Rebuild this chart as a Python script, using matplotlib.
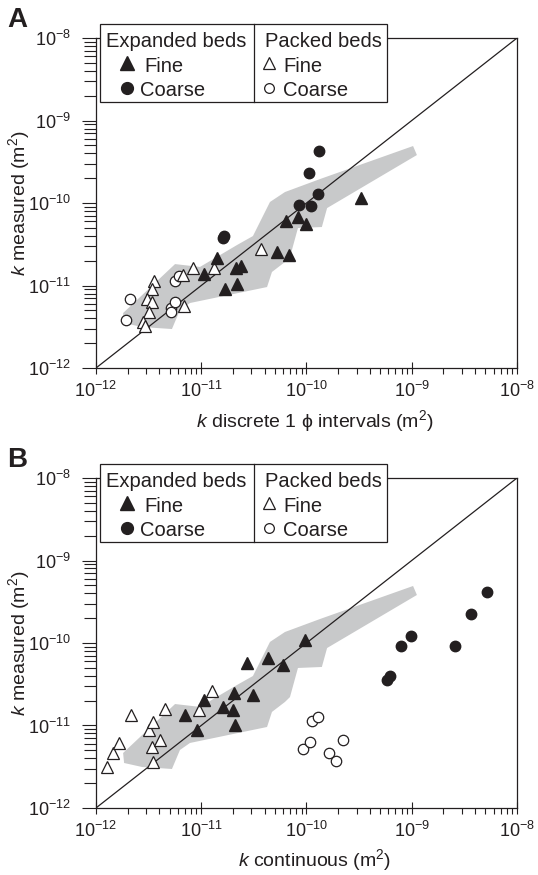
import matplotlib
matplotlib.use("Agg")
import matplotlib.pyplot as plt
from matplotlib.patches import Rectangle
from matplotlib.ticker import FixedLocator, NullFormatter

plt.rcParams["font.family"] = ["Liberation Sans", "DejaVu Sans"]
plt.rcParams["mathtext.fontset"] = "custom"
plt.rcParams["mathtext.rm"] = "Liberation Sans"
plt.rcParams["mathtext.it"] = "Liberation Sans:italic"
plt.rcParams["mathtext.bf"] = "Liberation Sans:bold"
plt.rcParams["axes.unicode_minus"] = False

INK = "#231f20"
GREY = "#c8c9ca"

# ---- measured k (m^2) vs predicted k, panel A: discrete 1-phi intervals ----
a_exp_fine_x = [1.40e-11, 1.07e-11, 2.12e-11, 2.39e-11, 1.67e-11, 2.17e-11,
                5.28e-11, 6.82e-11, 6.34e-11, 8.35e-11, 9.95e-11, 3.30e-10]
a_exp_fine_y = [2.14e-11, 1.38e-11, 1.61e-11, 1.74e-11, 9.0e-12, 1.04e-11,
                2.52e-11, 2.36e-11, 6.05e-11, 6.76e-11, 5.52e-11, 1.14e-10]
a_exp_coarse_x = [1.61e-11, 1.63e-11, 8.49e-11, 1.11e-10, 1.29e-10, 1.06e-10, 1.32e-10]
a_exp_coarse_y = [3.72e-11, 3.98e-11, 9.46e-11, 9.27e-11, 1.27e-10, 2.33e-10, 4.30e-10]
a_pack_fine_x = [3.58e-12, 3.38e-12, 3.03e-12, 3.38e-12, 3.19e-12, 2.78e-12,
                 2.92e-12, 6.90e-12, 8.30e-12, 1.32e-11, 3.67e-11, 6.75e-12]
a_pack_fine_y = [1.14e-11, 9.0e-12, 6.8e-12, 6.31e-12, 4.78e-12, 3.64e-12,
                 3.23e-12, 5.65e-12, 1.64e-11, 1.61e-11, 2.75e-11, 1.34e-11]
a_pack_coarse_x = [2.10e-12, 1.91e-12, 5.64e-12, 6.18e-12, 5.13e-12, 5.16e-12, 5.64e-12]
a_pack_coarse_y = [6.81e-12, 3.82e-12, 1.14e-11, 1.30e-11, 5.38e-12, 4.78e-12, 6.37e-12]

# ---- panel B: continuous ----
b_exp_fine_x = [6.97e-12, 9.12e-12, 1.07e-11, 1.60e-11, 2.03e-11, 1.99e-11,
                2.09e-11, 3.13e-11, 2.72e-11, 4.34e-11, 6.02e-11, 9.69e-11]
b_exp_fine_y = [1.33e-11, 8.87e-12, 2.06e-11, 1.69e-11, 2.48e-11, 1.52e-11,
                1.02e-11, 2.32e-11, 5.74e-11, 6.58e-11, 5.43e-11, 1.10e-10]
b_exp_coarse_x = [5.86e-10, 6.21e-10, 7.85e-10, 9.90e-10, 2.58e-9, 3.68e-9, 5.22e-9]
b_exp_coarse_y = [3.60e-11, 3.94e-11, 9.14e-11, 1.21e-10, 9.14e-11, 2.27e-10, 4.19e-10]
b_pack_fine_x = [1.28e-12, 1.46e-12, 1.66e-12, 2.16e-12, 3.21e-12, 3.50e-12,
                 3.38e-12, 3.46e-12, 4.08e-12, 4.57e-12, 9.57e-12, 1.26e-11]
b_pack_fine_y = [3.18e-12, 4.63e-12, 6.12e-12, 1.34e-11, 8.71e-12, 1.10e-11,
                 5.47e-12, 3.56e-12, 6.62e-12, 1.57e-11, 1.55e-11, 2.64e-11]
b_pack_coarse_x = [1.12e-10, 1.28e-10, 9.33e-11, 1.08e-10, 1.65e-10, 1.91e-10, 2.24e-10]
b_pack_coarse_y = [1.12e-11, 1.27e-11, 5.21e-12, 6.30e-12, 4.70e-12, 3.70e-12, 6.58e-12]

# grey envelope (same in both panels)
env_x = [1.81e-12, 5.64e-12, 9.73e-12, 2.19e-11, 3.10e-11, 4.50e-11, 6.25e-11,
         1.34e-10, 1.03e-9, 1.12e-9, 1.57e-10, 1.40e-10, 8.30e-11, 6.97e-11,
         6.25e-11, 4.70e-11, 4.22e-11, 7.82e-12, 6.28e-12, 5.27e-12, 2.74e-12, 1.85e-12]
env_y = [4.64e-12, 1.82e-11, 1.68e-11, 3.10e-11, 3.98e-11, 1.03e-10, 1.36e-10,
         1.95e-10, 4.91e-10, 3.82e-10, 8.69e-11, 5.12e-11, 4.98e-11, 2.21e-11,
         1.93e-11, 1.46e-11, 9.59e-12, 6.14e-12, 5.05e-12, 2.97e-12, 3.14e-12, 3.51e-12]

k_lim = [1e-12, 1e-8]
decade_exps = [-12, -11, -10, -9, -8]


def draw_key(ax):
    """Two-column key box sitting over the top-left of the axes."""
    tr = ax.transAxes
    ax.add_patch(Rectangle((0.0095, 0.806), 0.6817, 0.2364, transform=tr,
                           fc="white", ec=INK, lw=0.9, clip_on=False, zorder=6))
    ax.plot([0.3753, 0.3753], [0.806, 1.0424], color=INK, lw=0.9,
            transform=tr, clip_on=False, zorder=7)
    fs = 14.5
    kw = dict(transform=tr, fontsize=fs, color=INK, va="center_baseline", zorder=8)
    ax.text(0.0238, 0.997, "Expanded beds", **kw)
    ax.text(0.4014, 0.997, "Packed beds", **kw)
    ax.text(0.114, 0.921, "Fine", **kw)
    ax.text(0.1045, 0.8476, "Coarse", **kw)
    ax.text(0.4442, 0.921, "Fine", **kw)
    ax.text(0.4442, 0.8476, "Coarse", **kw)
    mk = dict(transform=tr, clip_on=False, zorder=8, linestyle="none")
    ax.plot([0.0729], [0.925], marker="^", ms=10.5, mfc=INK, mec=INK, **mk)
    ax.plot([0.0729], [0.8476], marker="o", ms=8.5, mfc=INK, mec=INK, **mk)
    ax.plot([0.4116], [0.925], marker="^", ms=9, mfc="white", mec=INK, mew=0.9, **mk)
    ax.plot([0.4109], [0.8476], marker="o", ms=7, mfc="white", mec=INK, mew=0.9, **mk)


def draw_panel(ax, exp_fine, exp_coarse, pack_fine, pack_coarse, xlabel):
    ax.set_xscale("log")
    ax.set_yscale("log")
    ax.set_xlim(k_lim)
    ax.set_ylim(k_lim)

    ax.fill(env_x, env_y, color=GREY, lw=0, zorder=1)
    ax.plot(k_lim, k_lim, color=INK, lw=0.9, zorder=2)

    ax.plot(*pack_coarse, "o", ms=7.5, mfc="white", mec=INK, mew=0.9, zorder=3)
    ax.plot(*pack_fine, "^", ms=8.5, mfc="white", mec=INK, mew=0.9, zorder=3)
    ax.plot(*exp_fine, "^", ms=8.5, mfc=INK, mec=INK, zorder=4)
    ax.plot(*exp_coarse, "o", ms=7.5, mfc=INK, mec=INK, zorder=4)

    for s in ax.spines.values():
        s.set_linewidth(0.9)
        s.set_color(INK)

    majors = [10.0 ** e for e in decade_exps]
    minors = [m * 10.0 ** e for e in decade_exps[:-1] for m in range(2, 10)]
    labels = ["$10^{%d}$" % e for e in decade_exps]
    for axis in (ax.xaxis, ax.yaxis):
        axis.set_major_locator(FixedLocator(majors))
        axis.set_minor_locator(FixedLocator(minors))
        axis.set_minor_formatter(NullFormatter())
    ax.set_xticklabels(labels)
    ax.set_yticklabels(labels)

    ax.tick_params(axis="x", which="major", direction="inout", length=9,
                   width=0.8, pad=5, labelsize=13, colors=INK)
    ax.tick_params(axis="x", which="minor", direction="out", length=4,
                   width=0.8, colors=INK)
    ax.tick_params(axis="y", which="major", direction="out", length=10,
                   width=0.8, pad=8, labelsize=13, colors=INK)
    ax.tick_params(axis="y", which="minor", direction="out", length=8.5,
                   width=0.8, colors=INK)

    ax.set_xlabel(xlabel, fontsize=14, color=INK)
    ax.set_ylabel(r"$k$ measured (m$^2$)", fontsize=14, color=INK)
    ax.yaxis.set_label_coords(-0.152, 0.5)
    ax.xaxis.set_label_coords(0.52, -0.12)
    draw_key(ax)


def main():
    fig = plt.figure(figsize=(5.38, 8.75), dpi=100)
    ax_a = fig.add_axes([0.1784, 0.5794, 0.7825, 0.3771])
    ax_b = fig.add_axes([0.1784, 0.0766, 0.7825, 0.3771])

    draw_panel(ax_a,
               (a_exp_fine_x, a_exp_fine_y), (a_exp_coarse_x, a_exp_coarse_y),
               (a_pack_fine_x, a_pack_fine_y), (a_pack_coarse_x, a_pack_coarse_y),
               "$k$ discrete 1 $\\mathrm{\\phi}$ intervals (m$^2$)")
    draw_panel(ax_b,
               (b_exp_fine_x, b_exp_fine_y), (b_exp_coarse_x, b_exp_coarse_y),
               (b_pack_fine_x, b_pack_fine_y), (b_pack_coarse_x, b_pack_coarse_y),
               r"$k$ continuous (m$^2$)")

    fig.text(0.014, 0.977, "A", fontsize=20, fontweight="bold", color=INK, va="center")
    fig.text(0.014, 0.474, "B", fontsize=20, fontweight="bold", color=INK, va="center")

    fig.savefig("out.png", dpi=100)


if __name__ == "__main__":
    main()
